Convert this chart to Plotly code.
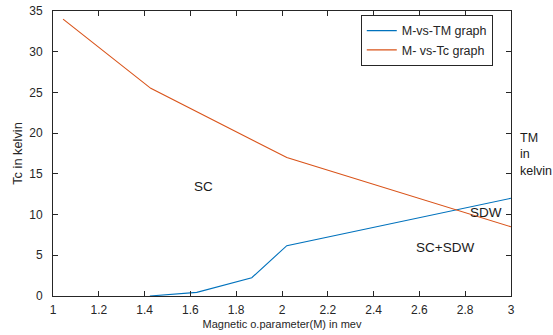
import plotly.graph_objects as go

# Data
m_tm = [1.423, 1.628, 1.868, 2.021, 3.0]
tm_vals = [0.0, 0.45, 2.25, 6.18, 12.0]

m_tc = [1.044, 1.427, 2.021, 3.0]
tc_vals = [34.0, 25.5, 17.0, 8.5]

x_ticks = [1, 1.2, 1.4, 1.6, 1.8, 2, 2.2, 2.4, 2.6, 2.8, 3]
y_ticks = [0, 5, 10, 15, 20, 25, 30, 35]

BLUE = "#0072BD"
ORANGE = "#D95319"
AX = "#262626"
FONT = "Liberation Sans, Arial, sans-serif"

fig = go.Figure()
fig.add_trace(go.Scatter(x=m_tm, y=tm_vals, mode="lines", name="M-vs-TM graph",
                         line=dict(color=BLUE, width=1.1)))
fig.add_trace(go.Scatter(x=m_tc, y=tc_vals, mode="lines", name="M- vs-Tc graph",
                         line=dict(color=ORANGE, width=1.1)))

axis_common = dict(showgrid=False, zeroline=False, showline=True, linecolor=AX, linewidth=1,
                   mirror="ticks", ticks="inside", ticklen=5, tickcolor=AX, automargin=False,
                   tickfont=dict(family=FONT, size=12, color=AX))

fig.update_xaxes(range=[1, 3], tickvals=x_ticks,
                 ticktext=[("%g" % v) for v in x_ticks], ticklabelstandoff=3,
                 title=dict(text="Magnetic o.parameter(M) in mev",
                            font=dict(family=FONT, size=11, color=AX), standoff=3),
                 **axis_common)
fig.update_yaxes(range=[0, 35], tickvals=y_ticks, ticklabelstandoff=7,
                 title=dict(text="Tc in kelvin", font=dict(family=FONT, size=12.8, color=AX), standoff=3),
                 **axis_common)

ann_font = dict(family=FONT, size=13.5, color="#1a1a1a")
fig.add_annotation(x=1.655, y=13.5, text="SC", showarrow=False, font=ann_font)
fig.add_annotation(x=2.89, y=10.3, text="SDW", showarrow=False, font=ann_font)
fig.add_annotation(x=2.711, y=6.0, text="SC+SDW", showarrow=False, font=ann_font)
fig.add_annotation(x=1.0155, xref="paper", y=17.4, text="TM<br>in<br>kelvin", showarrow=False,
                   xanchor="left", yanchor="middle", align="left",
                   font=dict(family=FONT, size=12.5, color="#1a1a1a"))

fig.update_layout(
    width=553, height=335,
    margin=dict(l=53, r=42, t=11, b=39),
    paper_bgcolor="white", plot_bgcolor="white",
    showlegend=True,
    legend=dict(x=0.672, y=0.986, xanchor="left", yanchor="top",
                bordercolor=AX, borderwidth=1, bgcolor="white",
                font=dict(family=FONT, size=12.5, color=AX),
                tracegroupgap=0, itemwidth=30),
)

fig.write_html("out.html", config={"displayModeBar": False},
               post_script="document.body.style.margin='0';")
